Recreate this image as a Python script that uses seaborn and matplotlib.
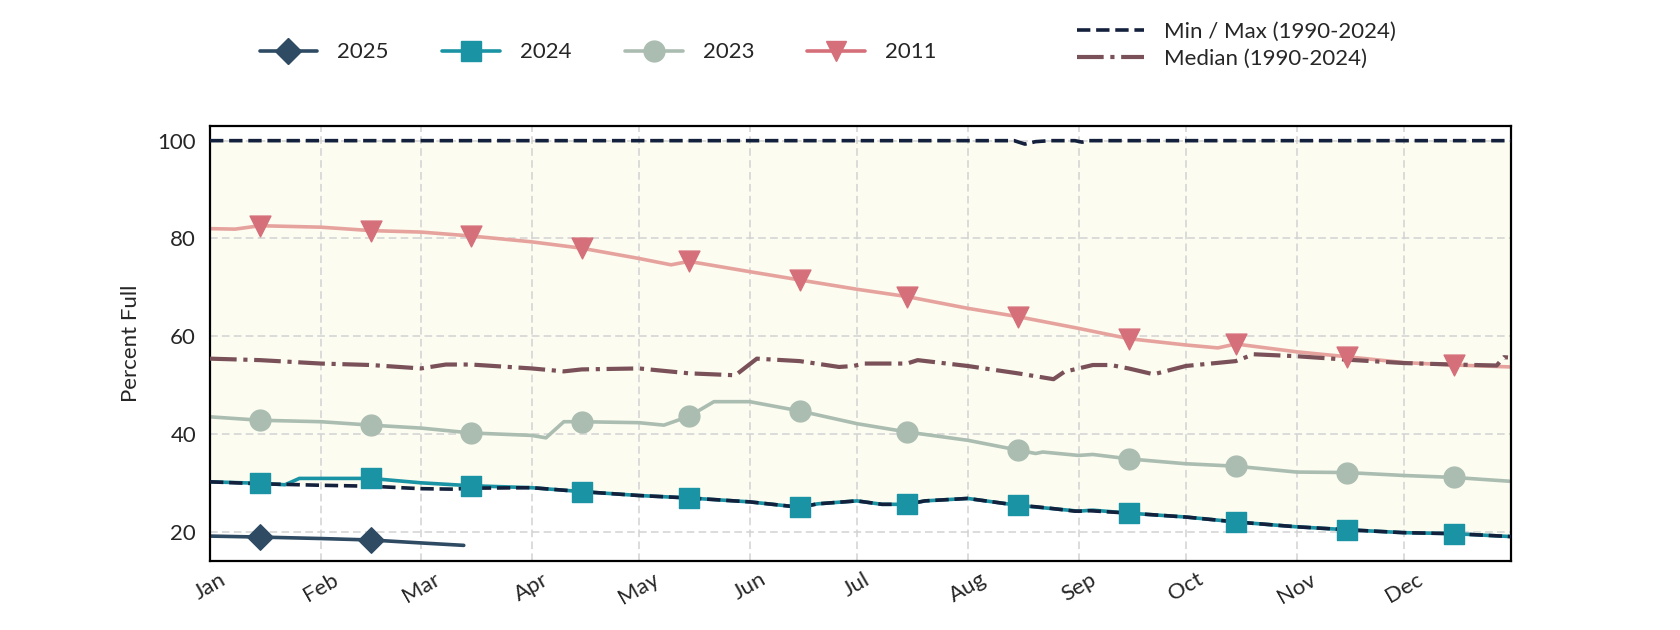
import matplotlib
matplotlib.use("Agg")
import matplotlib.pyplot as plt
import matplotlib.dates as mdates
from matplotlib.lines import Line2D
import pandas as pd
import seaborn as sns

YEAR = "2025"

# reservoir storage, percent full
minmax_dates = ["01-01", "01-15", "02-01", "02-15", "03-01", "03-10", "03-15", "04-01",
                "04-15", "05-01", "05-15", "06-01", "06-15", "06-20", "07-01", "07-08",
                "07-15", "07-20", "08-01", "08-14", "08-17", "08-20", "08-24", "08-31",
                "09-02", "09-04", "09-15", "10-01", "10-15", "11-01", "11-15", "12-01",
                "12-15", "12-31"]
min_vals = [30.2, 29.8, 29.5, 29.3, 28.8, 28.7, 28.9, 29.0,
            28.2, 27.4, 26.9, 26.1, 25.0, 25.7, 26.3, 25.6,
            25.6, 26.3, 26.8, 25.5, 25.3, 25.1, 24.8, 24.2,
            24.2, 24.3, 23.8, 23.0, 22.0, 21.0, 20.4, 19.8,
            19.6, 19.0]
max_vals = [100, 100, 100, 100, 100, 100, 100, 100,
            100, 100, 100, 100, 100, 100, 100, 100,
            100, 100, 100, 100, 99.3, 99.8, 100, 100,
            99.7, 100, 100, 100, 100, 100, 100, 100,
            100, 100]

median_dates = ["01-01", "01-15", "02-01", "02-15", "03-01", "03-08", "03-15", "04-01",
                "04-10", "04-15", "05-01", "05-15", "05-28", "06-03", "06-15", "06-26",
                "06-30", "07-03", "07-15", "07-18", "08-01", "08-15", "08-25", "08-28",
                "09-05", "09-10", "09-15", "09-22", "10-01", "10-15", "10-20", "11-01",
                "11-15", "12-01", "12-15", "12-27", "12-29", "12-31"]
median_vals = [55.4, 55.1, 54.4, 54.1, 53.4, 54.2, 54.2, 53.4,
               52.8, 53.2, 53.4, 52.4, 52.0, 55.4, 54.9, 53.7,
               53.9, 54.4, 54.4, 55.1, 53.9, 52.4, 51.2, 52.7,
               54.1, 54.1, 53.4, 52.2, 53.9, 54.9, 56.3, 55.9,
               55.2, 54.5, 54.2, 54.0, 55.7, 55.6]

dates_2011 = ["01-01", "01-08", "01-15", "02-01", "02-15", "03-01", "03-15", "04-01",
              "04-15", "05-01", "05-10", "05-15", "06-01", "06-15", "07-01", "07-15",
              "08-01", "08-15", "09-01", "09-15", "10-01", "10-10", "10-15", "11-01",
              "11-15", "12-01", "12-15", "12-31"]
vals_2011 = [82.0, 81.9, 82.6, 82.3, 81.6, 81.3, 80.5, 79.3,
             78.0, 75.9, 74.6, 75.3, 73.2, 71.5, 69.6, 68.1,
             65.7, 64.0, 61.6, 59.5, 58.2, 57.6, 58.4, 56.8,
             55.8, 54.6, 54.1, 53.7]

dates_2023 = ["01-01", "01-15", "02-01", "02-15", "03-01", "03-15", "04-01", "04-05",
              "04-10", "04-15", "05-01", "05-08", "05-15", "05-22", "06-01", "06-15",
              "07-01", "07-15", "08-01", "08-15", "08-20", "08-22", "09-01", "09-05",
              "09-15", "10-01", "10-15", "11-01", "11-15", "12-01", "12-15", "12-31"]
vals_2023 = [43.5, 42.8, 42.5, 41.8, 41.2, 40.2, 39.7, 39.2,
             42.5, 42.5, 42.3, 41.8, 43.6, 46.6, 46.6, 44.7,
             42.1, 40.4, 38.7, 36.7, 36.0, 36.3, 35.6, 35.8,
             34.9, 33.9, 33.4, 32.2, 32.1, 31.5, 31.1, 30.3]

dates_2024 = ["01-01", "01-15", "01-22", "01-26", "02-15", "03-01", "03-15", "04-01",
              "04-15", "05-01", "05-15", "06-01", "06-15", "06-20", "07-01", "07-08",
              "07-15", "07-20", "08-01", "08-15", "09-01", "09-05", "09-15", "10-01",
              "10-15", "11-01", "11-15", "12-01", "12-15", "12-31"]
vals_2024 = [30.2, 29.9, 29.6, 30.9, 30.9, 30.0, 29.4, 29.0,
             28.2, 27.4, 26.9, 26.1, 25.0, 25.7, 26.3, 25.6,
             25.6, 26.3, 26.8, 25.4, 24.2, 24.4, 23.8, 23.0,
             22.0, 21.0, 20.4, 19.8, 19.6, 19.0]

dates_2025 = ["01-01", "01-15", "02-01", "02-15", "03-01", "03-13"]
vals_2025 = [19.1, 18.9, 18.6, 18.3, 17.7, 17.2]

month_labels = ["Jan", "Feb", "Mar", "Apr", "May", "Jun",
                "Jul", "Aug", "Sep", "Oct", "Nov", "Dec"]

C_2025 = "#2e4b63"
C_2024 = "#1a93a4"
C_2023 = "#abbdb1"
C_2011 = "#d5707a"
C_2011_LINE = "#e6a39e"
C_MINMAX = "#14213d"
C_MEDIAN = "#7a5158"


def to_frame(dates, vals):
    return pd.DataFrame({"date": pd.to_datetime([YEAR + "-" + d for d in dates]),
                         "pct": vals})


sns.set_style("white")
plt.rcParams["font.family"] = ["Lato", "DejaVu Sans"]
plt.rcParams["font.size"] = 16

fig = plt.figure(figsize=(16.8, 6.3), dpi=100)
ax = fig.add_axes([0.125, 0.1095, 0.7744, 0.6905])

mm = pd.DataFrame({"date": pd.to_datetime([YEAR + "-" + d for d in minmax_dates]),
                   "lo": min_vals, "hi": max_vals})
ax.fill_between(mm["date"], mm["lo"], mm["hi"], color="#fcfcf1", zorder=0.1, linewidth=0)

# year lines first, then the statistics on top, then the mid-month markers
years = [
    (dates_2011, vals_2011, C_2011_LINE, C_2011, "v", 15),
    (dates_2023, vals_2023, C_2023, C_2023, "o", 15),
    (dates_2024, vals_2024, C_2024, C_2024, "s", 14),
    (dates_2025, vals_2025, C_2025, C_2025, "D", 13),
]
for dates, vals, lc, mc, mk, ms in years:
    df = to_frame(dates, vals)
    sns.lineplot(data=df, x="date", y="pct", color=lc, linewidth=2.6, ax=ax, zorder=2)

df = to_frame(median_dates, median_vals)
sns.lineplot(data=df, x="date", y="pct", color=C_MEDIAN, linewidth=3.0, linestyle="-.",
             ax=ax, zorder=3)
sns.lineplot(data=mm, x="date", y="hi", color=C_MINMAX, linewidth=2.6, linestyle="--",
             ax=ax, zorder=3)
sns.lineplot(data=mm, x="date", y="lo", color=C_MINMAX, linewidth=2.6, linestyle="--",
             ax=ax, zorder=3)

for dates, vals, lc, mc, mk, ms in years:
    df = to_frame(dates, vals)
    df = df[df["date"].dt.day == 15]
    sns.scatterplot(data=df, x="date", y="pct", color=mc, marker=mk, s=ms ** 2,
                    edgecolor=mc, linewidth=1, ax=ax, zorder=4)

if ax.get_legend() is not None:
    ax.get_legend().remove()

ax.set_xlim(pd.Timestamp(YEAR + "-01-01"), pd.Timestamp(YEAR + "-12-31"))
ax.set_ylim(14, 103)
ax.set_yticks([20, 40, 60, 80, 100])
ax.xaxis.set_major_locator(mdates.MonthLocator())
ax.set_xticks(ax.get_xticks())
ax.set_xticklabels(month_labels, rotation=30, ha="center")
ax.set_xlabel("")
ax.set_ylabel("Percent Full", fontsize=16, labelpad=12)
ax.tick_params(axis="both", length=0, labelsize=16)
ax.tick_params(axis="y", pad=10)
ax.tick_params(axis="x", pad=6)

ax.set_axisbelow("line")
ax.grid(True, color="#d2d2d2", linewidth=1.1, linestyle=(0, (5, 2.8)))
for sp in ax.spines.values():
    sp.set_visible(True)
    sp.set_color("black")
    sp.set_linewidth(1.6)

year_handles = [
    Line2D([], [], color=C_2025, lw=2.6, marker="D", ms=13),
    Line2D([], [], color=C_2024, lw=2.6, marker="s", ms=14),
    Line2D([], [], color=C_2023, lw=2.6, marker="o", ms=15),
    Line2D([], [], color=C_2011, lw=2.6, marker="v", ms=15),
]
fig.legend(year_handles, ["2025", "2024", "2023", "2011"], loc="center",
           bbox_to_anchor=(0.356, 0.917), ncol=4, frameon=False, fontsize=16,
           handlelength=2.6, handletextpad=0.9, columnspacing=2.4)

stat_handles = [
    Line2D([], [], color=C_MINMAX, lw=2.6, linestyle="--"),
    Line2D([], [], color=C_MEDIAN, lw=3.0, linestyle="-."),
]
fig.legend(stat_handles, ["Min / Max (1990-2024)", "Median (1990-2024)"], loc="center",
           bbox_to_anchor=(0.736, 0.928), ncol=1, frameon=False, fontsize=16,
           handlelength=3.0, handletextpad=0.9, labelspacing=0.35)

fig.savefig("out.png", dpi=100)
